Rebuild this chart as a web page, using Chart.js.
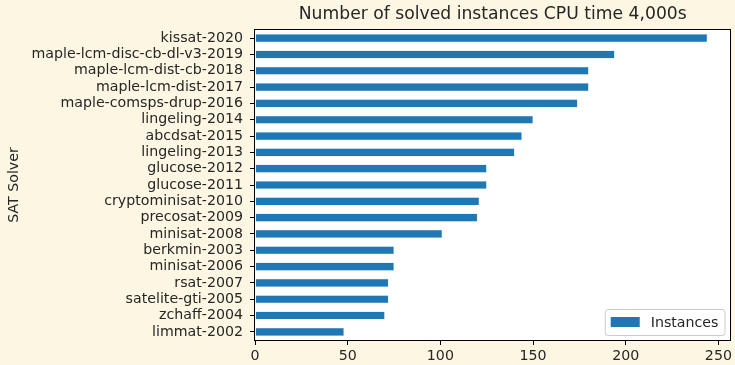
<!DOCTYPE html>
<html>
<head>
<meta charset="utf-8">
<script src="https://cdn.jsdelivr.net/npm/chart.js@4"></script>
<style>
  body { margin: 0; background: #fdf6e3; }
</style>
</head>
<body>
<canvas id="solvers" width="735" height="365"></canvas>
<script>
let solvers = [
  "kissat-2020",
  "maple-lcm-disc-cb-dl-v3-2019",
  "maple-lcm-dist-cb-2018",
  "maple-lcm-dist-2017",
  "maple-comsps-drup-2016",
  "lingeling-2014",
  "abcdsat-2015",
  "lingeling-2013",
  "glucose-2012",
  "glucose-2011",
  "cryptominisat-2010",
  "precosat-2009",
  "minisat-2008",
  "berkmin-2003",
  "minisat-2006",
  "rsat-2007",
  "satelite-gti-2005",
  "zchaff-2004",
  "limmat-2002",
];
let instances = [244, 194, 180, 180, 174, 150, 144, 140, 125, 125, 121, 120, 101, 75, 75, 72, 72, 70, 48];
let xTicks = [0, 50, 100, 150, 200, 250];
let chartTitle = "Number of solved instances CPU time 4,000s";

let font = "'DejaVu Sans', sans-serif";
let blue = "#1f77b4";
let textColor = "#262626";

// white plot area, black frame, title centred over the axes
let frame = {
  id: "frame",
  beforeDraw(chart) {
    let { ctx, chartArea: a } = chart;
    ctx.save();
    ctx.fillStyle = "#ffffff";
    ctx.fillRect(a.left, a.top, a.right - a.left, a.bottom - a.top);
    ctx.restore();
  },
  afterDraw(chart) {
    let { ctx, chartArea: a } = chart;
    ctx.save();
    ctx.strokeStyle = "#000000";
    ctx.lineWidth = 1;
    ctx.strokeRect(Math.round(a.left) - 0.5, Math.round(a.top) - 0.5, Math.round(a.right - a.left) + 1, Math.round(a.bottom - a.top) + 1);
    ctx.fillStyle = textColor;
    ctx.font = "17.2px " + font;
    ctx.textAlign = "center";
    ctx.textBaseline = "middle";
    ctx.fillText(chartTitle, (a.left + a.right) / 2, a.top - 15);
    ctx.restore();
  },
};

// matplotlib-like legend in the lower right corner
let innerLegend = {
  id: "innerLegend",
  afterDraw(chart) {
    let { ctx, chartArea: a } = chart;
    let label = chart.data.datasets[0].label;
    ctx.save();
    ctx.font = "14.2px " + font;
    let w = 34 + 10 + ctx.measureText(label).width + 8;
    let h = 26;
    let x = a.right - 6 - w;
    let y = a.bottom - 5 - h;
    ctx.fillStyle = "rgba(255,255,255,0.8)";
    ctx.strokeStyle = "#cccccc";
    ctx.lineWidth = 1;
    ctx.beginPath();
    ctx.roundRect(x + 0.5, y + 0.5, w, h, 3);
    ctx.fill();
    ctx.stroke();
    ctx.fillStyle = blue;
    ctx.fillRect(x + 6, y + 8, 29, 10);
    ctx.fillStyle = textColor;
    ctx.textBaseline = "middle";
    ctx.fillText(label, x + 46, y + h / 2 + 1);
    ctx.restore();
  },
};

new Chart(document.getElementById("solvers"), {
  type: "bar",
  data: {
    labels: solvers,
    datasets: [
      {
        label: "Instances",
        data: instances,
        backgroundColor: blue,
        borderColor: "rgba(166, 200, 226, 0.9)",
        borderWidth: 0.5,
        borderSkipped: false,
        barPercentage: 0.5,
        categoryPercentage: 1,
      },
    ],
  },
  plugins: [frame, innerLegend],
  options: {
    responsive: false,
    animation: false,
    indexAxis: "y",
    layout: { padding: { left: 6, right: 2, top: 30, bottom: 0 } },
    plugins: {
      legend: { display: false },
      tooltip: { enabled: false },
      title: { display: false },
    },
    scales: {
      x: {
        min: 0,
        max: 256.5,
        afterBuildTicks: (scale) => {
          scale.ticks = xTicks.map((v) => ({ value: v }));
        },
        grid: {
          drawOnChartArea: false,
          drawTicks: true,
          tickLength: 5,
          color: "#000000",
        },
        border: { display: false },
        ticks: {
          color: textColor,
          padding: 3,
          font: { family: font, size: 14.2 },
        },
        afterFit: (scale) => {
          scale.height = 25;
        },
      },
      y: {
        grid: {
          drawOnChartArea: false,
          drawTicks: true,
          tickLength: 5,
          color: "#000000",
          offset: false,
        },
        border: { display: false },
        ticks: {
          color: textColor,
          padding: 7,
          autoSkip: false,
          font: { family: font, size: 14.2 },
        },
        title: {
          display: true,
          text: "SAT Solver",
          color: textColor,
          padding: 0,
          font: { family: font, size: 14.2 },
        },
        afterFit: (scale) => {
          scale.width = 249;
        },
      },
    },
  },
});
</script>
</body>
</html>
